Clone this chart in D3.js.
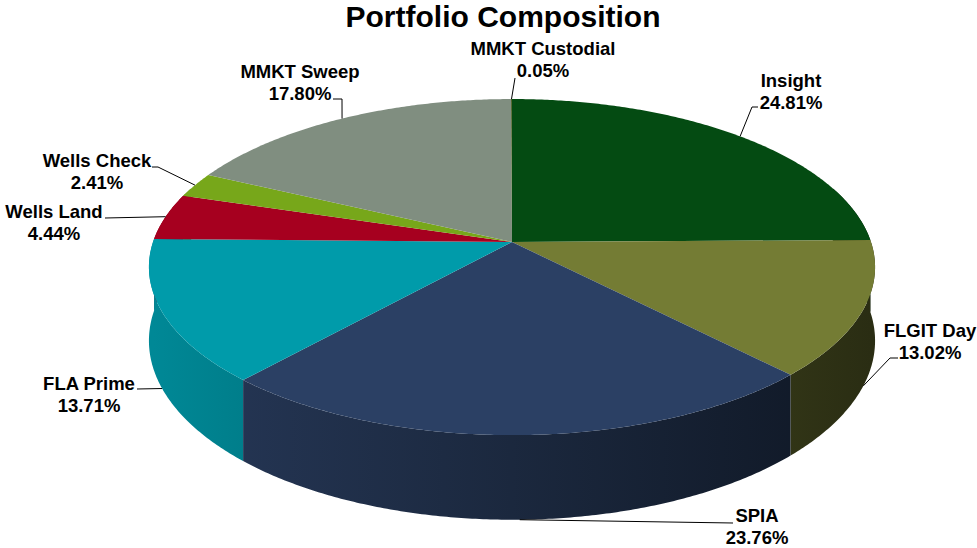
<!DOCTYPE html>
<html lang="en">
<head>
  <meta charset="UTF-8">
  <title>Portfolio Composition</title>
  <script src="https://d3js.org/d3.v7.min.js"></script>
  <style>
    body { margin: 0; background: #fff; }
    text { font-family: Arial, "Liberation Sans", sans-serif; font-weight: bold; fill: #000; }
  </style>
</head>
<body>
  <svg width="977" height="548"></svg>
  <script>
    // data
    const categories = ["Insight", "FLGIT Day", "SPIA", "FLA Prime", "Wells Land", "Wells Check", "MMKT Sweep", "MMKT Custodial"];
    const shares = [24.81, 13.02, 23.76, 13.71, 4.44, 2.41, 17.80, 0.05];
    const colors = ["#044b12", "#747c34", "#2b4064", "#009baa", "#a6001f", "#77a71a", "#808e80", "#4f6228"];

    // label layout: text centre / first baseline, and leader line bend points
    const labelPos = [[791, 87], [930, 337], [757, 522], [89, 390], [54, 218], [97, 167], [300, 78], [543, 55]];
    const leaderBends = [
      [[752, 107], [758, 107]],
      [[890, 358], [898, 358]],
      [[733, 523]],
      [[137, 389]],
      [[105, 218]],
      [[158, 167], [152, 167]],
      [[342, 99], [333, 99]],
      [[515, 78]]
    ];

    const svg = d3.select("svg");
    const defs = svg.append("defs");
    const cx = 512, cy = 242, RX = 359, RY = 164.3, D = 6.7, H = 72;

    // perspective view of a disc, angle clockwise from the back
    function proj(theta, r, depth) {
      const x = r * Math.sin(theta), z = -r * Math.cos(theta);
      const s = D / (D - z);
      return [cx + RX * x * s, cy + RY * z * s + depth * s];
    }

    function arcPoints(a0, a1, depth) {
      const n = Math.max(1, Math.ceil((a1 - a0) / (Math.PI / 360)));
      return d3.range(n + 1).map(k => proj(a0 + (a1 - a0) * k / n, 1, depth));
    }

    const pie = d3.pie().sort(null).value(d => d)(shares);

    svg.append("text")
      .attr("x", 503).attr("y", 27)
      .attr("text-anchor", "middle")
      .style("font-size", "30px")
      .text("Portfolio Composition");

    // side walls: lit from the left, darker to the right
    const shade = x => 0.62 - 0.26 * x;
    pie.forEach((p, i) => {
      const c = d3.rgb(colors[i]);
      const g = defs.append("linearGradient")
        .attr("id", "wall" + i)
        .attr("gradientUnits", "userSpaceOnUse")
        .attr("x1", cx - RX).attr("x2", cx + RX).attr("y1", 0).attr("y2", 0);
      [-1, 0, 1].forEach(x => {
        const f = shade(x);
        g.append("stop")
          .attr("offset", (x + 1) / 2)
          .attr("stop-color", d3.rgb(c.r * f, c.g * f, c.b * f).toString());
      });
    });

    const lo = Math.PI / 2 - 0.35, hi = 3 * Math.PI / 2 + 0.35;
    const walls = pie
      .map((p, i) => ({ i, a0: Math.max(p.startAngle, lo), a1: Math.min(p.endAngle, hi) }))
      .filter(w => w.a1 > w.a0)
      .sort((a, b) => -Math.cos((a.a0 + a.a1) / 2) + Math.cos((b.a0 + b.a1) / 2));

    svg.append("g")
      .selectAll("path")
      .data(walls)
      .enter().append("path")
        .attr("d", w => d3.line()(arcPoints(w.a0, w.a1, 0).concat(arcPoints(w.a0, w.a1, H).reverse())) + "Z")
        .attr("fill", w => `url(#wall${w.i})`);

    // top faces
    svg.append("g")
      .selectAll("path")
      .data(pie)
      .enter().append("path")
        .attr("d", p => d3.line()([[cx, cy]].concat(arcPoints(p.startAngle, p.endAngle, 0))) + "Z")
        .attr("fill", (p, i) => colors[i]);

    // leader lines
    const leaders = svg.append("g");
    pie.forEach((p, i) => {
      const mid = (p.startAngle + p.endAngle) / 2;
      const front = -Math.cos(mid) > 0;
      const anchor = proj(mid, 1, front ? H : 0);
      leaders.append("path")
        .attr("d", d3.line()([anchor].concat(leaderBends[i])))
        .attr("fill", "none")
        .attr("stroke", "#000")
        .attr("stroke-width", 1);
    });

    // labels
    const labels = svg.append("g");
    pie.forEach((p, i) => {
      const t = labels.append("text")
        .attr("x", labelPos[i][0]).attr("y", labelPos[i][1])
        .attr("text-anchor", "middle")
        .style("font-size", "18.5px");
      t.append("tspan").attr("x", labelPos[i][0]).text(categories[i]);
      t.append("tspan").attr("x", labelPos[i][0]).attr("dy", 21.5).text(shares[i].toFixed(2) + "%");
    });
  </script>
</body>
</html>
